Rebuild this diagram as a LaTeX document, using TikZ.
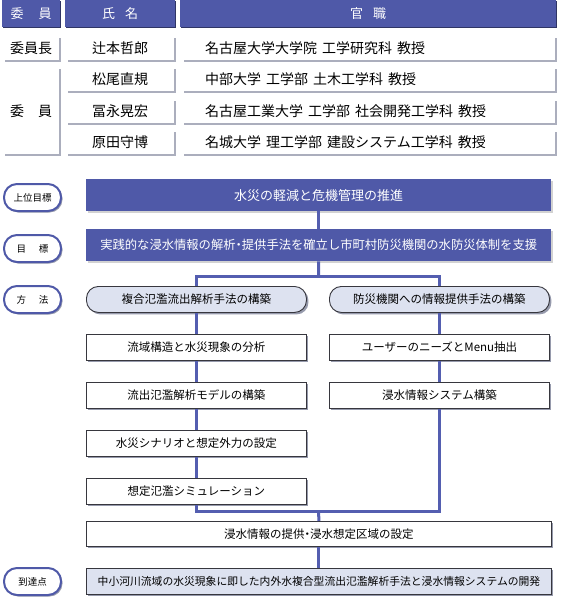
\documentclass[tikz,border=0pt]{standalone}
\usepackage{fontspec}
\setmainfont{Noto Sans CJK JP}
\usetikzlibrary{positioning, shadows}

\definecolor{hdrblue}{RGB}{79,89,168}
\definecolor{lineblue}{RGB}{84,94,176}
\definecolor{paleblue}{RGB}{221,226,240}
\definecolor{shadowgray}{RGB}{150,154,172}
\definecolor{edgegray}{RGB}{55,55,62}

\newcommand{\gapsp}{\hspace{5pt}}

\begin{document}
\begin{tikzpicture}[
        x=1pt, y=-1pt,
        node distance=21pt,
        every node/.style={inner sep=0pt, anchor=north west},
        hdr/.style={fill=hdrblue, text=white, minimum height=27pt, font=\fontsize{13}{13}\selectfont,
            drop shadow={shadow xshift=1pt, shadow yshift=-1pt, fill=hdrblue!60!black, opacity=1}},
        cell/.style={fill=white, minimum height=24pt, font=\fontsize{14}{14}\selectfont,
            drop shadow={shadow xshift=2pt, shadow yshift=-2pt, fill=shadowgray!80, opacity=1}},
        bluebox/.style={fill=hdrblue, text=white, minimum width=465pt, minimum height=32pt,
            drop shadow={shadow xshift=2pt, shadow yshift=-2pt, fill=gray!35, opacity=1}},
        box/.style={draw=edgegray, line width=0.9pt, fill=white, minimum width=220pt, minimum height=26pt,
            font=\fontsize{11.5}{11.5}\selectfont,
            drop shadow={shadow xshift=2pt, shadow yshift=-2pt, fill=shadowgray, opacity=1}},
        methbox/.style={box, fill=paleblue, rounded corners=12pt},
        pill/.style={draw=hdrblue, line width=2pt, fill=white, rounded corners=13pt, minimum width=57pt,
            minimum height=27pt, font=\fontsize{9.5}{9.5}\selectfont,
            drop shadow={shadow xshift=1.5pt, shadow yshift=-1.5pt, fill=shadowgray, opacity=1}},
        flow/.style={draw=lineblue, line width=3pt}
    ]

        \useasboundingbox (0,0) rectangle (560,597);

        % member table
        \node[hdr, minimum width=58pt] (hrole) at (2,0) {委\hspace{15pt}員};
        \node[hdr, minimum width=110pt] (hname) at (65,0) {氏\hspace{10pt}名};
        \node[hdr, minimum width=376pt] (hpost) at (180,0) {官\hspace{10pt}職};

        \node[cell, minimum width=56pt] (chair) at (3,36) {委員長};
        \node[cell, minimum width=56pt, minimum height=87pt] (members) at (3,67) {委\hspace{14pt}員};

        \foreach \y/\nm/\pos [count=\i] in {
            36/辻本哲郎/名古屋大学大学院\gapsp 工学研究科\gapsp 教授,
            67/松尾直規/中部大学\gapsp 工学部\gapsp 土木工学科\gapsp 教授,
            99/冨永晃宏/名古屋工業大学\gapsp 工学部\gapsp 社会開発工学科\gapsp 教授,
            130/原田守博/名城大学\gapsp 理工学部\gapsp 建設システム工学科\gapsp 教授} {
            \node[cell, minimum width=108pt] (name\i) at (66,\y) {\nm};
            \node[cell, inner xsep=23pt, text width=327pt, align=left] (post\i) at (182,\y) {\pos};
        }

        % labels on the left
        \node[pill] (lblupper) at (3,183) {上位目標};
        \node[pill] (lblgoal) at (3,234) {目\hspace{13pt}標};
        \node[pill] (lblmethod) at (3,285) {方\hspace{13pt}法};
        \node[pill] (lblreach) at (3,567) {到達点};

        % flow
        \node[bluebox, font=\fontsize{13}{13}\selectfont] (upper) at (86,179) {水災の軽減と危機管理の推進};
        \node[bluebox, font=\fontsize{12.3}{12.3}\selectfont] (goal) at (86,229) {実践的な浸水情報の解析\kern-3pt・\kern-3pt 提供手法を確立し市町村防災機関の水防災体制を支援};

        \node[methbox] (methA) at (86,286) {複合氾濫流出解析手法の構築};
        \node[methbox] (methB) at (329,286) {防災機関への情報提供手法の構築};

        \node[box, below=of methA] (a1) {流域構造と水災現象の分析};
        \node[box, below=of a1] (a2) {流出氾濫解析モデルの構築};
        \node[box, below=of a2] (a3) {水災シナリオと想定外力の設定};
        \node[box, below=of a3] (a4) {想定氾濫シミュレーション};

        \node[box, below=of methB] (b1) {ユーザーのニーズとMenu抽出};
        \node[box, below=of b1] (b2) {浸水情報システム構築};

        \node[box, minimum width=465pt, minimum height=25pt] (offer) at (86,521) {浸水情報の提供\kern-3pt・\kern-3pt 浸水想定区域の設定};
        \node[box, fill=paleblue, minimum width=465pt, font=\fontsize{10.8}{10.8}\selectfont, below=of offer] (final) {中小河川流域の水災現象に即した内外水複合型流出氾濫解析手法と浸水情報システムの開発};

        \coordinate (split) at (318.5,276);
        \coordinate (join) at (318.5,511);

        \draw[flow] (upper.south) -- (goal.north);
        \draw[flow] (goal.south) -- (split);
        \draw[flow] (methA.north) |- (split) -| (methB.north);
        \foreach \p/\q in {methA/a1, a1/a2, a2/a3, a3/a4, methB/b1, b1/b2}
            \draw[flow] (\p.south) -- (\q.north);
        \draw[flow] (a4.south) |- (join) -| (b2.south);
        \draw[flow] (join) -- (offer.north);
        \draw[flow] (offer.south) -- (final.north);

    \end{tikzpicture}
\end{document}
